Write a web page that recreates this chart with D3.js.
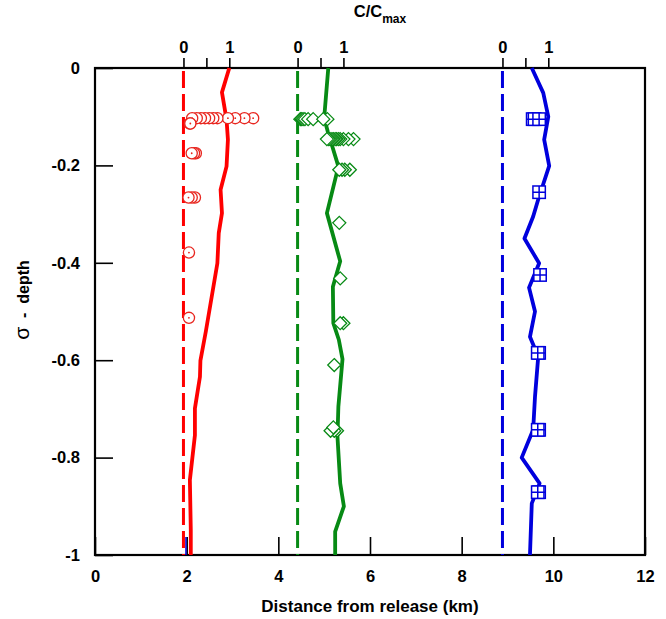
<!DOCTYPE html>
<html>
<head>
<meta charset="utf-8">
<script src="https://cdn.jsdelivr.net/npm/d3@7/dist/d3.min.js"></script>
<style>
  body { margin: 0; background: #fff; }
  text { font-family: "Liberation Sans", Arial, sans-serif; font-weight: bold; fill: #000; }
</style>
</head>
<body>
<svg id="chart" width="666" height="619"></svg>
<script>
// ---- axis ticks ----
const distanceTicks = [0, 2, 4, 6, 8, 10, 12];
const depthTicks = [0, -0.2, -0.4, -0.6, -0.8, -1];
const ratioTicks = [0, 0.5, 1];
const ratioLabelled = [0, 1];

// ---- station positions along the transect (km) ----
const stationDistance = [1.93, 4.42, 8.89];

// ---- modelled C/Cmax profiles (sigma depth, ratio) ----
const nearDepth = [0, -0.05, -0.106, -0.147, -0.202, -0.25, -0.298, -0.339, -0.401, -0.54, -0.601, -0.634, -0.699, -0.754, -0.846, -0.949, -1];
const nearRatio = [1.00, 0.84, 0.94, 0.97, 0.94, 0.81, 0.84, 0.77, 0.74, 0.49, 0.37, 0.36, 0.25, 0.25, 0.14, 0.16, 0.16];

const midDepth = [0, -0.103, -0.131, -0.202, -0.298, -0.397, -0.449, -0.524, -0.558, -0.598, -0.695, -0.757, -0.853, -0.9, -0.952, -1];
const midRatio = [0.67, 0.58, 0.66, 0.89, 0.64, 0.93, 0.77, 0.78, 0.90, 0.98, 0.89, 0.87, 0.93, 1.01, 0.82, 0.82];

const farDepth = [0, -0.051, -0.1, -0.147, -0.201, -0.27, -0.305, -0.35, -0.401, -0.451, -0.5, -0.552, -0.593, -0.675, -0.743, -0.8, -0.853, -0.894, -1];
const farRatio = [0.64, 0.89, 1.00, 0.91, 1.02, 0.78, 0.67, 0.48, 0.80, 0.58, 0.71, 0.60, 0.78, 0.71, 0.67, 0.42, 0.81, 0.64, 0.60];

// ---- observed C/Cmax samples (sigma depth, ratio) ----
const nearObsDepth = [-0.103, -0.103, -0.103, -0.103, -0.103, -0.103, -0.103, -0.103, -0.103, -0.103, -0.103,
                      -0.114, -0.114, -0.175, -0.175, -0.175, -0.266, -0.266, -0.266, -0.379, -0.513];
const nearObsRatio = [1.52, 1.33, 1.13, 0.97, 0.74, 0.65, 0.56, 0.47, 0.38, 0.29, 0.19,
                      0.14, 0.15, 0.27, 0.23, 0.18, 0.25, 0.18, 0.11, 0.12, 0.12];

const midObsDepth = [-0.105, -0.105, -0.105, -0.105, -0.105, -0.105, -0.105, -0.105,
                     -0.146, -0.146, -0.146, -0.146, -0.146, -0.146, -0.146, -0.146, -0.146, -0.146, -0.146, -0.146,
                     -0.209, -0.209, -0.209, -0.209, -0.318, -0.432, -0.524, -0.524, -0.61,
                     -0.745, -0.745, -0.745, -0.738];
const midObsRatio = [0.06, 0.09, 0.12, 0.16, 0.23, 0.34, 0.65, 0.56,
                     1.22, 1.11, 1.00, 0.93, 0.89, 0.85, 0.82, 0.78, 0.75, 0.71, 0.68, 0.64,
                     1.14, 1.03, 0.97, 0.91, 0.91, 0.93, 1.00, 0.93, 0.80,
                     0.86, 0.80, 0.72, 0.78];

const farObsDepth = [-0.105, -0.105, -0.105, -0.255, -0.425, -0.585, -0.585, -0.743, -0.743, -0.871, -0.871];
const farObsRatio = [0.66, 0.70, 0.80, 0.80, 0.82, 0.80, 0.77, 0.80, 0.77, 0.80, 0.77];

// short marker at the release end of the bottom axis
const releaseDistance = [1.985, 1.985];
const releaseDepth = [-0.963, -1];

// ---- layout ----
const svg = d3.select("#chart");
const plotLeft = 95, plotRight = 645, plotTop = 68, plotBottom = 555;
const labelSize = "16.5px";

const x = d3.scaleLinear().domain([0, 12]).range([plotLeft, plotRight]);
const y = d3.scaleLinear().domain([0, -1]).range([plotTop, plotBottom]);

const colors = ["#ff0000", "#078a14", "#0000dd"];
const markerColors = ["#e8261f", "#078a14", "#0000dd"];

// bottom axis (ticks inside)
const gx = svg.append("g").attr("transform", `translate(0,${plotBottom})`)
  .call(d3.axisBottom(x).tickValues(distanceTicks).tickSize(-18).tickPadding(15)
    .tickFormat(d => String(d)));
gx.select(".domain").remove();
gx.selectAll("line").attr("stroke", "#000").attr("stroke-width", 1.6);
gx.selectAll("text").style("font-size", labelSize);

// left axis (ticks inside)
const gy = svg.append("g").attr("transform", `translate(${plotLeft},0)`)
  .call(d3.axisLeft(y).tickValues(depthTicks).tickSize(-18).tickPadding(15)
    .tickFormat(d => String(d)));
gy.select(".domain").remove();
gy.selectAll("line").attr("stroke", "#000").attr("stroke-width", 1.6);
gy.selectAll("text").style("font-size", labelSize);

// top axes: one C/Cmax scale per station (ticks outside)
stationDistance.forEach(d0 => {
  const r = d3.scaleLinear().domain([0, 1]).range([x(d0), x(d0 + 1)]);
  const g = svg.append("g").attr("transform", `translate(0,${plotTop})`)
    .call(d3.axisTop(r).tickValues(ratioTicks).tickSize(10).tickPadding(5)
      .tickFormat(d => ratioLabelled.includes(d) ? String(d) : ""));
  g.select(".domain").remove();
  g.selectAll("line").attr("stroke", "#000").attr("stroke-width", 1.6);
  g.selectAll("text").style("font-size", labelSize);
});

// frame
svg.append("rect")
  .attr("x", plotLeft).attr("y", plotTop)
  .attr("width", plotRight - plotLeft).attr("height", plotBottom - plotTop)
  .attr("fill", "none").attr("stroke", "#000").attr("stroke-width", 2.2);

// station reference lines (C/Cmax = 0)
stationDistance.forEach((d0, i) => {
  svg.append("line")
    .attr("x1", x(d0)).attr("x2", x(d0))
    .attr("y1", y(0)).attr("y2", y(-1))
    .attr("stroke", colors[i]).attr("stroke-width", 3)
    .attr("stroke-dasharray", "17,6")
    .attr("stroke-dashoffset", -3);
});

// release marker
svg.append("line")
  .attr("x1", x(releaseDistance[0])).attr("x2", x(releaseDistance[1]))
  .attr("y1", y(releaseDepth[0])).attr("y2", y(releaseDepth[1]))
  .attr("stroke", "#0000dd").attr("stroke-width", 1.5);

// modelled profiles
const profiles = [[nearDepth, nearRatio], [midDepth, midRatio], [farDepth, farRatio]];
const line = d3.line().x(p => x(p[0])).y(p => y(p[1]));
profiles.forEach(([dep, rat], i) => {
  const pts = dep.map((s, k) => [stationDistance[i] + rat[k], s]);
  svg.append("path")
    .attr("d", line(pts))
    .attr("fill", "none")
    .attr("stroke", colors[i])
    .attr("stroke-width", 3.8)
    .attr("stroke-linejoin", "round");
});

// observations: circles
const nearPts = nearObsDepth.map((s, k) => [stationDistance[0] + nearObsRatio[k], s]);
const gc = svg.append("g");
nearPts.forEach(p => {
  gc.append("circle").attr("cx", x(p[0])).attr("cy", y(p[1])).attr("r", 5.6)
    .attr("fill", "#fff").attr("stroke", markerColors[0]).attr("stroke-width", 1.3);
  gc.append("circle").attr("cx", x(p[0])).attr("cy", y(p[1])).attr("r", 0.9)
    .attr("fill", markerColors[0]);
});

// observations: diamonds
const midPts = midObsDepth.map((s, k) => [stationDistance[1] + midObsRatio[k], s]);
const h = 6.5;
svg.append("g").selectAll("path").data(midPts).join("path")
  .attr("d", p => `M${x(p[0])},${y(p[1]) - h}L${x(p[0]) + h},${y(p[1])}L${x(p[0])},${y(p[1]) + h}L${x(p[0]) - h},${y(p[1])}Z`)
  .attr("fill", "#fff").attr("stroke", markerColors[1]).attr("stroke-width", 1.3);

// observations: crossed squares
const farPts = farObsDepth.map((s, k) => [stationDistance[2] + farObsRatio[k], s]);
const half = 6.2;
const gs = svg.append("g");
farPts.forEach(p => {
  const cx = x(p[0]), cy = y(p[1]);
  gs.append("rect").attr("x", cx - half).attr("y", cy - half)
    .attr("width", 2 * half).attr("height", 2 * half)
    .attr("fill", "#fff").attr("stroke", markerColors[2]).attr("stroke-width", 1.5);
  gs.append("path")
    .attr("d", `M${cx - half},${cy}H${cx + half}M${cx},${cy - half}V${cy + half}`)
    .attr("stroke", markerColors[2]).attr("stroke-width", 1.5);
});

// axis titles
svg.append("text")
  .attr("x", (plotLeft + plotRight) / 2).attr("y", 612)
  .attr("text-anchor", "middle").style("font-size", "17px")
  .text("Distance from release (km)");

const yTitle = svg.append("text")
  .attr("transform", "translate(29,300) rotate(-90)")
  .attr("text-anchor", "middle").style("font-size", "16px")
  .style("white-space", "pre");
yTitle.append("tspan").style("font-size", "21px").style("font-weight", "normal").text("σ");
yTitle.append("tspan").text("  -  depth");

const title = svg.append("text")
  .attr("x", 380).attr("y", 17)
  .attr("text-anchor", "middle").style("font-size", "16.5px");
title.append("tspan").text("C/C");
title.append("tspan").attr("dy", 6).style("font-size", "12px").text("max");
</script>
</body>
</html>
